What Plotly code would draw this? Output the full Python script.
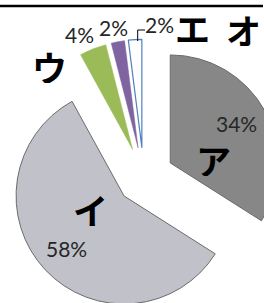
import plotly.graph_objects as go

# ---- data ----
categories = ["ア", "イ", "ウ", "エ", "オ"]
values = [34, 58, 4, 2, 2]
percent_labels = ["34%", "58%", "4%", "2%", "2%"]

# ---- styles / layout ----
W, H = 290, 320
pulls = [0.28, 0.25, 0.28, 0.28, 0.28]
fill_colors = ["#878787", "#c0c1c9", "#9bbb59", "#8064a2", "#ffffff"]
line_colors = ["#6b6b6b", "#6b6b6b", "#9bbb59", "#8064a2", "#4f81bd"]
line_widths = [1, 1, 0.5, 0.5, 1.2]

cat_pos = [(213, 159), (90, 209), (49, 66), (192, 27), (243, 29)]
pct_pos = [(236, 123), (66, 248), (79, 34), (113, 27), (159, 24)]

cx, cy, half = 143.75, 177.5, 138.25


def px_x(x):
    return x / W


def px_y(y):
    return 1 - y / H


fig = go.Figure(
    go.Pie(
        labels=categories,
        values=values,
        sort=False,
        direction="clockwise",
        rotation=0,
        pull=pulls,
        textinfo="none",
        hoverinfo="skip",
        showlegend=False,
        marker=dict(colors=fill_colors, line=dict(color=line_colors, width=line_widths)),
        domain=dict(x=[px_x(cx - half), px_x(cx + half)],
                    y=[px_y(cy + half), px_y(cy - half)]),
    )
)

annotations = []
for lab, (x, y) in zip(categories, cat_pos):
    annotations.append(dict(text="<b>%s</b>" % lab, x=px_x(x), y=px_y(y), xref="paper", yref="paper",
                            xanchor="center", yanchor="middle", showarrow=False, height=34,
                            font=dict(family="Noto Sans CJK JP", size=35, color="#000000")))
for lab, (x, y) in zip(percent_labels, pct_pos):
    annotations.append(dict(text=lab, x=px_x(x), y=px_y(y), xref="paper", yref="paper",
                            xanchor="center", yanchor="middle", showarrow=False, height=18,
                            font=dict(family="Lato", size=21, color="#262626")))

shapes = [
    dict(type="line", xref="paper", yref="paper", x0=0, x1=px_x(263), y0=px_y(6), y1=px_y(6),
         line=dict(color="#000000", width=2.5)),
    dict(type="path", xref="paper", yref="paper",
         path="M %f,%f L %f,%f L %f,%f" % (px_x(137.7), px_y(41), px_x(137.7), px_y(30), px_x(145), px_y(30)),
         line=dict(color="#000000", width=1)),
]

fig.update_layout(
    width=W, height=H,
    margin=dict(l=0, r=0, t=0, b=0),
    paper_bgcolor="#ffffff",
    annotations=annotations,
    shapes=shapes,
)

fig.write_html(
    "out.html",
    config={"displayModeBar": False},
    post_script="document.body.style.margin='0';document.body.style.overflow='hidden';"
                "document.documentElement.style.overflow='hidden';",
)
